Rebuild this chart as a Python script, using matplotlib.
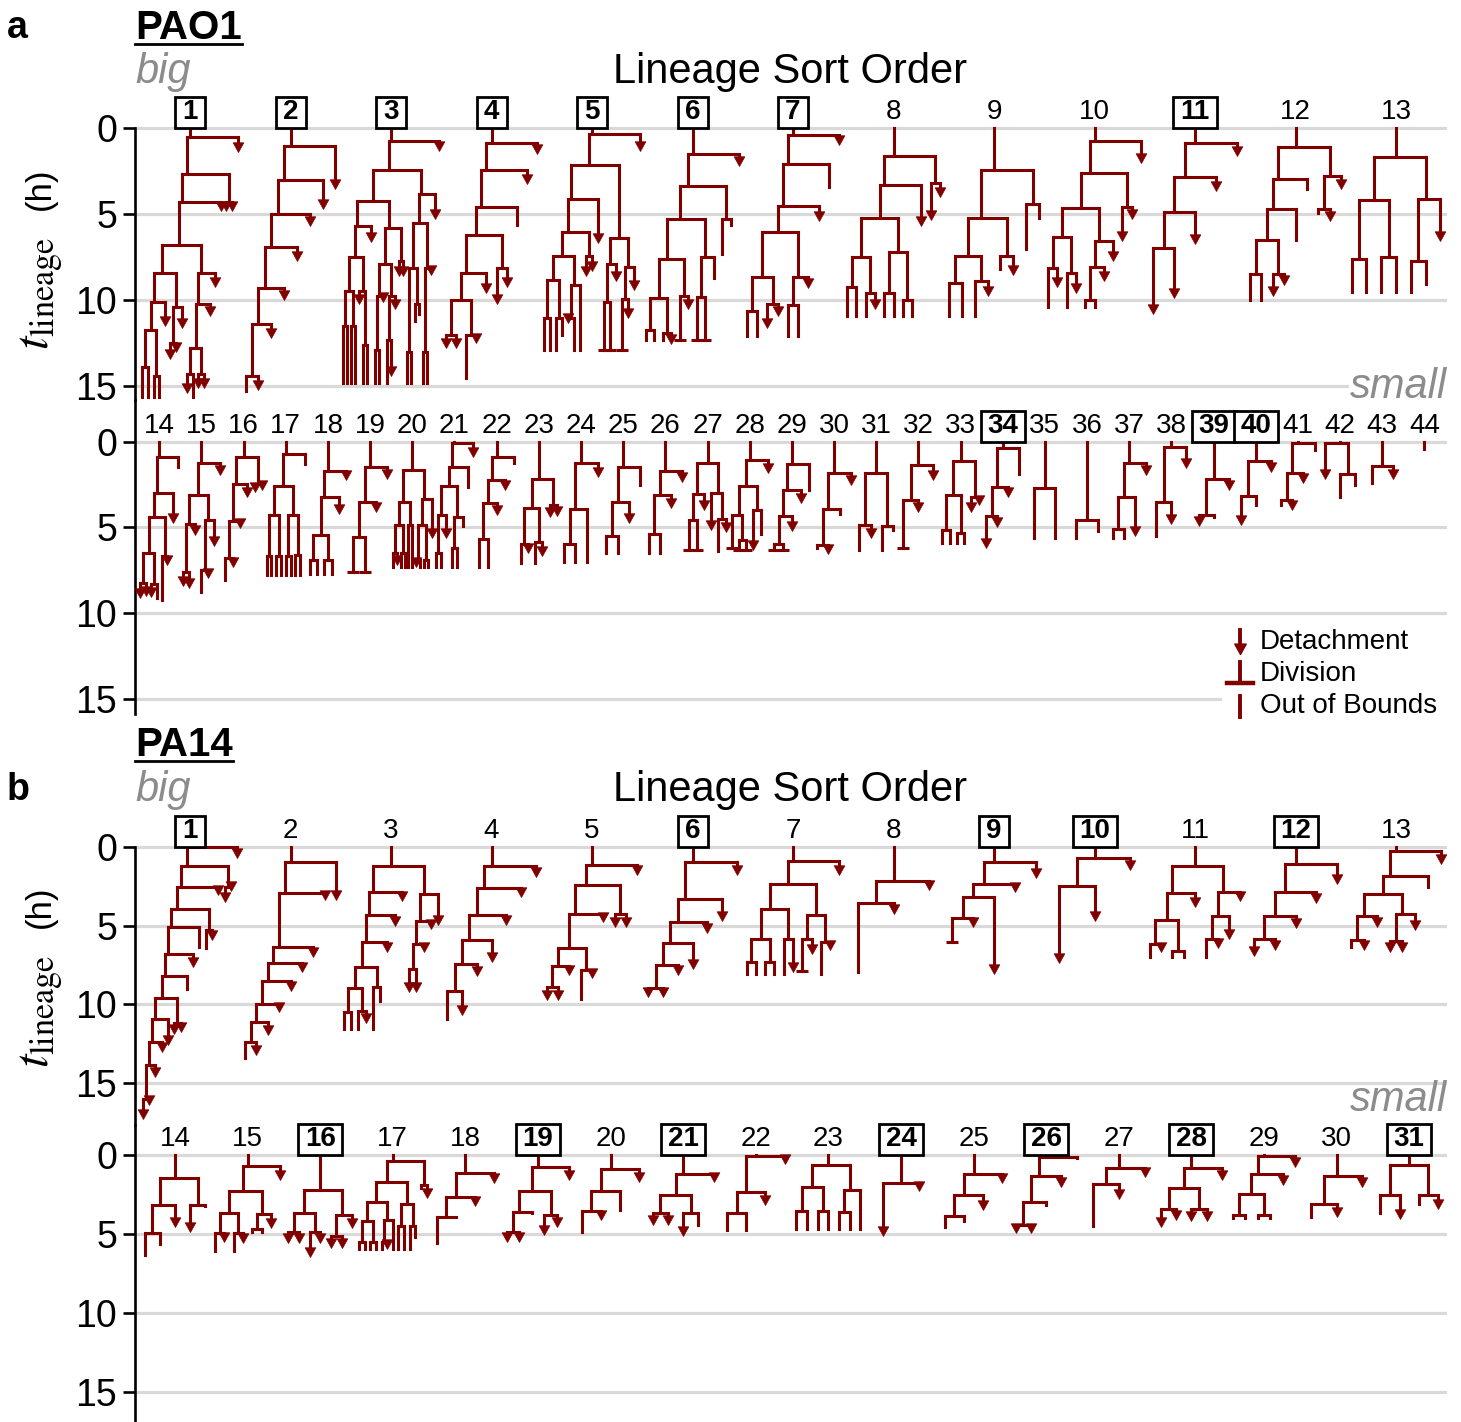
import matplotlib.pyplot as plt
from matplotlib.collections import LineCollection
from matplotlib.lines import Line2D
from matplotlib.patches import Rectangle
from matplotlib.path import Path

plt.rcParams['font.family'] = ['Liberation Sans', 'DejaVu Sans']
plt.rcParams['mathtext.fontset'] = 'stix'

W, H = 1461, 1422
RED = '#800000'
GRID = '#d9d9d9'
GRAY_TXT = '#8c8c8c'

# Lineage trees, times in hours.
# "t(left,right)" = division at t, leaf "t" + v (detached), o (out of bounds), d (division)
PAO1_TREES = [
    "0.5(2.65(4.3(6.8(8.4(10.1(11.7(13.9(15.6o,15.6o),14.4(15.6o,15.6o)),11.5v),10.4(12.5(13.4v,13.0v),11.6v)),8.4(10.2(12.75(14.3(15.4v,15.6o),14.3(15.1v,15.1v)),10.9v),9.2v)),4.8v),4.26(4.8v,4.8v)),1.35v)",
    "1.0(3.0(5.0(6.9(9.3(11.4(14.4(15.3o,15.2v),12.2v),10.0v),7.7v),5.7v),4.7v),3.55v)",
    "0.75(2.4(4.2(5.7(7.5(9.45(11.5(14.8o,14.8o),11.5(14.8o,14.8o)),9.45(10.2v,12.6(14.8o,14.8o))),6.6v),5.8(7.9(9.75(12.9(14.8o,14.8o),10.1v),9.75(12.3(14.8o,14.4v),10.5v)),7.7(8.6v,8.6v))),3.8(5.5(8.1(13.0(14.8o,14.8o),10.2(11.2o,10.8o)),8.1(13.0(14.8o,14.8o),8.5v)),5.3v)),1.3v)",
    "0.87(2.4(4.55(6.2(8.4(10.0(12.0(12.75v,12.75v),12.0(14.5o,12.5v)),9.6v),8.1(10.2v,9.2v)),5.6o),3.25v),1.5v)",
    "0.35(2.15(4.1(6.0(7.4(8.8(11.0(12.9o,12.9o),11.0(12.9o,12.0o)),9.1(11.0(11.3v,12.9o),12.9o)),7.4(8.6v,8.3v)),6.65v),6.35(7.9(10.1(12.9d,12.9d),8.9v),8.05(9.95(12.9d,11.0v),9.4v))),1.3v)",
    "1.5(3.35(5.3(7.6(9.85(11.7(12.3o,12.3o),11.9(12.3o,12.55v)),9.75(12.3d,10.5v)),7.5(9.8(12.3d,12.3d),8.7o)),5.3(7.3o,5.6o)),2.2v)",
    "0.4(2.1(4.5(6.0(8.65(10.6(12.1o,12.1o),10.2(11.6v,10.9v)),8.65(10.3(12.1o,12.1o),9.3v)),5.4v),3.4o),0.95v)",
    "1.6(3.3(5.2(7.5(9.2(10.9o,10.9o),9.6(10.9o,10.5v)),7.2(9.55(10.9o,10.9o),10.0(10.9o,10.9o))),5.7v),3.2(5.35v,4.0v))",
    "2.4(5.2(7.45(9.0(10.9o,10.9o),8.85(10.9o,9.75v)),7.45(8.2o,8.5v)),4.4(7.0o,5.2o))",
    "0.75(2.6(4.65(6.3(8.15(10.4o,9.25v),8.4(10.4o,9.6v)),6.55(8.05(10.0(10.4o,10.4o),8.9v),7.7v)),4.6(6.55v,5.3v)),2.0v)",
    "0.85(2.85(4.85(6.95(10.8v,9.85v),6.75v),3.65v),1.6v)",
    "1.1(2.95(4.7(6.5(8.45(10.0o,10.0o),8.45(9.75v,9.1v)),6.5o),3.5o),2.75(4.7(4.9o,5.4v),3.55v))",
    "1.65(4.15(7.6(9.5o,9.5o),7.5(9.5o,9.5o)),4.1(7.7(9.5o,9.05o),6.55v))",
    "0.9(3.0(4.4(6.5(8.25(9.15v,9.0v),8.3(9.05v,9.1o)),6.7(9.25o,7.2v)),4.75v),1.45o)",
    "1.25(3.1(4.8(7.6(8.45v,8.55v),5.45v),4.6(7.5(8.75o,7.95v),6.1v)),1.95v)",
    "0.9(2.45(4.65(6.8(8.1o,7.3v),5.05v),3.2v),2.45(2.95v,2.8v))",
    "0.7(2.6(4.3(6.7(7.8o,7.8o),6.7(7.8o,7.8o)),4.3(6.65(7.8o,7.8o),6.6(7.8o,7.8o))),1.3o)",
    "1.7(3.25(5.45(6.9(7.7o,7.7o),6.9(7.7o,7.7o)),4.2v),2.25v)",
    "1.5(3.5(5.55(7.6d,7.6d),4.1v),2.15v)",
    "1.65(3.5(4.85(6.5(7.3o,7.2v),6.5(7.3o,7.3o)),4.85(7.3o,7.3o)),3.35(4.85(6.9(7.3v,7.3o),6.9(7.3o,7.3o)),5.65v))",
    "0.05(1.5(2.6(4.3(6.5(7.3o,7.3o),5.65v),4.4(6.2(7.3o,7.3o),4.95o)),2.65o),0.9v)",
    "0.9(2.25(3.6(5.7(7.3o,7.3o),4.3v),2.8v),1.25o)",
    "2.2(3.85(6.0(7.1o,6.5v),5.85(7.1o,6.7v)),3.7(4.4v,4.35v))",
    "1.25(3.95(6.0(7.0o,7.0o),7.0o),2.05v)",
    "1.45(3.5(5.5(6.5o,6.5o),4.75v),2.55o)",
    "1.7(3.1(5.4(6.5o,6.5o),3.85v),2.35v)",
    "1.25(3.05(4.55(6.3d,6.3d),4.0v),3.0(5.15v,4.5(6.4o,5.25v)))",
    "1.05(2.6(4.3(6.2d,5.75(6.3d,6.3d)),4.0(6.3v,5.4o)),1.85v)",
    "1.3(2.8(4.35(5.95(6.3d,6.3d),5.2v),3.55v),2.8o)",
    "1.8(3.9(6.05(6.2o,6.55v),4.2o),2.55v)",
    "1.8(4.85(6.3o,5.65v),4.95(6.3o,5.15o))",
    "1.35(3.4(6.2d,4.1v),2.25v)",
    "1.15(3.1(5.15(5.9o,5.9o),5.35(5.9o,5.9o)),3.2(4.1v,3.7v))",
    "0.35(2.65(4.35(6.2v,5.0v),3.25v),1.9o)",
    "2.7(5.6o,5.6o)",
    "4.6(5.6o,5.2o)",
    "1.25(3.2(5.1(5.6o,5.6o),5.5v),1.95v)",
    "0.3(3.5(5.5o,4.8v),1.55v)",
    "2.2(4.3(4.9v,4.4o),2.8v)",
    "1.1(3.15(4.85v,3.7o),1.75v)",
    "0.05(1.8(3.4(3.7o,4.0v),2.4v),0.5o)",
    "0.05(2.2v,1.9(3.2o,2.5o))",
    "1.4(2.4o,2.2v)",
    "0.45o",
]
PAO1_BOXED = [1, 2, 3, 4, 5, 6, 7, 11, 34, 39, 40]

PA14_TREES = [
    "0.05(1.2(2.55(3.95(5.1(6.8(8.2(9.6(10.95(12.4(13.85(16.0(17.25v,16.4v),14.6v),13.0v),12.6v),11.2(11.9v,11.75v)),9.0o),7.6v),6.35o),5.3(6.4o,5.9v)),3.05v),2.55(3.5v,2.8v)),0.7v)",
    "0.95(2.95(6.35(7.35(8.5(9.95(11.1(12.4(13.4o,13.2v),11.95v),10.5v),9.15v),7.95v),7.0v),3.4v),3.4v)",
    "1.25(2.85(4.35(6.05(7.6(8.95(10.5(11.55o,11.55o),10.4(11.55o,11.2v)),8.9(11.55o,9.8o)),6.65v),5.0v),3.45v),3.0(4.7(6.2(7.75(9.2v,9.2v),6.65v),5.2v),4.95v))",
    "1.25(2.65(4.3(5.9(7.45(9.15(10.9o,10.7v),8.2v),7.3v),4.95v),3.2v),1.9v)",
    "1.15(2.45(4.25(6.45(7.55(8.9(9.75v,9.75v),8.15v),7.8(9.65o,8.35v)),4.75v),4.25(5.1v,5.1v)),1.8v)",
    "1.0(3.3(4.75(6.1(7.5(8.95(9.55v,9.55v),8.15v),7.75v),5.5v),4.7v),1.8v)",
    "0.9(2.35(3.95(5.85(7.3(8.05o,8.05o),7.3(8.05o,8.05o)),5.85(8.05o,7.95v)),4.35(5.85(7.9d,6.8v),6.05(8.05o,6.55v))),1.8v)",
    "2.2(3.6(7.95o,4.25v),2.75v)",
    "0.95(2.35(3.2(4.5(6.05d,5.1v),8.05v),2.85v),2.0v)",
    "0.7(2.5(7.4v,4.7v),1.5v)",
    "1.25(2.95(4.65(6.15(7.0o,6.65v),6.6(7.0o,7.0o)),3.8v),2.85(4.4(5.85(7.0o,6.45v),5.85v),3.45v))",
    "1.1(2.85(4.4(5.85(6.9v,6.55v),5.15v),3.6v),2.35v)",
    "0.3(1.85(3.0(4.4(5.9(6.35o,6.55v),5.1v),4.25(6.0(6.65v,6.65v),5.3v)),2.55o),1.1v)",
    "1.45(3.15(4.95(6.35o,5.65o),4.55v),3.15(4.9v,3.2o))",
    "0.7(2.3(3.65(4.95(6.1o,5.5v),4.95(6.1o,5.6v)),3.75(4.7(4.85o,4.85o),4.65v)),1.6v)",
    "2.2(3.65(4.9(5.6v,5.6v),4.9(6.45v,5.6v)),3.8(5.1(5.9v,5.9v),4.65v))",
    "0.4(1.7(2.95(4.2(5.5(5.95o,5.95o),5.5(5.95o,5.95o)),4.1(5.5(5.95o,5.95v),5.95o)),3.1(4.5(5.95o,5.95o),4.5(5.95o,5.2o))),1.9(2.1o,2.75v))",
    "1.15(2.65(3.9(5.6o,3.95o),3.25v),1.8v)",
    "0.75(2.3(3.6(4.85(5.5v,5.5v),3.65o),3.8(5.05v,4.55v)),1.6v)",
    "0.9(2.3(3.55(4.85o,4.1v),3.5o),1.7v)",
    "1.2(2.55(3.65(4.45v,4.45v),3.65(5.15v,4.4o)),1.7v)",
    "0.05(2.35(3.65(4.75o,4.75o),3.15v),0.55v)",
    "0.65(2.0(3.55(4.7o,4.7o),3.55(4.7o,4.7o)),2.2(3.6(4.7o,4.7o),4.7o))",
    "1.75(5.1v,2.3v)",
    "1.2(2.55(3.85(4.55o,4.2o),3.5v),1.8v)",
    "0.1(1.35(2.95(4.45(4.95v,4.95v),3.15o),2.0v),0.2o)",
    "0.8(1.85(4.5o,2.8v),1.4v)",
    "0.85(2.1(3.4(4.55v,4.1v),3.4(4.2v,4.2v)),1.6v)",
    "0.05(1.2(2.45(3.8(4.0o,4.0o),3.8(4.0o,4.0o)),1.9v),0.75v)",
    "1.35(3.1(3.95o,3.95v),2.0v)",
    "0.65(2.55(3.65o,4.05v),2.55(3.1o,3.4v))",
]
PA14_BOXED = [1, 6, 9, 10, 12, 16, 19, 21, 24, 26, 28, 31]

Y_TICKS = [0, 5, 10, 15]

# arrow head with its tip at the origin
ARROW = Path([(-0.55, 1.0), (0.55, 1.0), (0.0, 0.0), (-0.55, 1.0)],
             [Path.MOVETO, Path.LINETO, Path.LINETO, Path.CLOSEPOLY])
ARROW_MS = 14
ARROW_PX = 0.5 * ARROW_MS * 100 / 72


def parse_tree(text):
    s = text.replace(' ', '')
    pos = 0

    def node():
        nonlocal pos
        start = pos
        while s[pos] in '0123456789.':
            pos += 1
        t = float(s[start:pos])
        if s[pos] == '(':
            pos += 1
            left = node()
            pos += 1  # ','
            right = node()
            pos += 1  # ')'
            return {'t': t, 'kids': (left, right)}
        pos += 1
        return {'t': t, 'end': s[pos - 1]}

    return node()


def leaf_list(node):
    if 'kids' in node:
        return leaf_list(node['kids'][0]) + leaf_list(node['kids'][1])
    return [node]


def set_x(node):
    if 'kids' in node:
        xs = set_x(node['kids'][0]) + set_x(node['kids'][1])
        node['x'] = sum(xs) / len(xs)
        return xs
    return [node['x']]


def layout(tree, center):
    leaves = leaf_list(tree)
    n = len(leaves)
    if n == 1:
        leaves[0]['x'] = center
    else:
        span = 1 - 0.5 * (n - 1) ** -0.8
        for i, lf in enumerate(leaves):
            lf['x'] = center + (i / (n - 1) - 0.5) * span
    set_x(tree)


def collect(node, t0, tri, segs, arrows, divs):
    x = node['x']
    if 'kids' in node:
        td = node['t']
        left, right = node['kids']
        segs.append([(x, t0), (x, td)])
        segs.append([(left['x'], td), (right['x'], td)])
        collect(left, td, tri, segs, arrows, divs)
        collect(right, td, tri, segs, arrows, divs)
    else:
        te = node['t']
        if node['end'] == 'v':
            segs.append([(x, t0), (x, max(t0, te - tri / 2))])
            arrows.append((x, te))
        else:
            segs.append([(x, t0), (x, te)])
            if node['end'] == 'd':
                divs.append((x, te))


def fx(px):
    return px / W


def fy(py):
    return 1 - py / H


fig = plt.figure(figsize=(W / 100, H / 100), dpi=100)

ROWS = [
    # trees, first number, boxed, top px, bottom px, zero px, px per hour, first label px, step px, spine from 0
    (PAO1_TREES[:13], 1, PAO1_BOXED, 98, 400, 128.3, 17.2, 190, 100.5, True),
    (PAO1_TREES[13:], 14, PAO1_BOXED, 400, 714, 441.7, 17.13, 159.3, 42.17, False),
    (PA14_TREES[:13], 1, PA14_BOXED, 812, 1125, 846.7, 15.77, 190, 100.5, True),
    (PA14_TREES[13:], 14, PA14_BOXED, 1125, 1422, 1155, 15.8, 175, 72.6, False),
]

LEFT_PX, RIGHT_PX = 135, 1447

for trees, first, boxed, top, bottom, zero, pph, x0, dx, from_zero in ROWS:
    ax = fig.add_axes([fx(LEFT_PX), fy(bottom), (RIGHT_PX - LEFT_PX) / W, (bottom - top) / H])
    ax.patch.set_visible(False)
    ax.set_xlim((LEFT_PX - x0) / dx, (RIGHT_PX - x0) / dx)
    ax.set_ylim((bottom - zero) / pph, (top - zero) / pph)
    for side in ['top', 'right', 'bottom']:
        ax.spines[side].set_visible(False)
    ax.spines['left'].set_linewidth(1.9)
    if from_zero:
        ax.spines['left'].set_bounds(0, (bottom - zero) / pph)
    ax.set_xticks([])
    ax.set_yticks(Y_TICKS)
    ax.tick_params(axis='y', length=9, width=1.9, labelsize=27, pad=4)
    for t in Y_TICKS:
        ax.axhline(t, color=GRID, lw=2.3, zorder=0)

    tri = ARROW_PX / pph
    segs, arrows, divs = [], [], []
    for i, text in enumerate(trees):
        tree = parse_tree(text)
        layout(tree, i)
        collect(tree, 0.0, tri, segs, arrows, divs)
    ax.add_collection(LineCollection(segs, colors=RED, linewidths=2.2,
                                     capstyle='projecting', zorder=3, clip_on=False))
    if arrows:
        ax.plot([a[0] for a in arrows], [a[1] for a in arrows], ls='none', marker=ARROW,
                ms=ARROW_MS, color=RED, mec=RED, mew=0.5, zorder=4, clip_on=False)
    if divs:
        ax.plot([d[0] for d in divs], [d[1] for d in divs], ls='none', marker='_',
                ms=9, mew=2.2, color=RED, zorder=4, clip_on=False)

    # lineage numbers above each tree
    label_t = -16 / pph
    for i in range(len(trees)):
        num = first + i
        if num in boxed:
            bw = (16 + 14 * len(str(num))) / dx
            bh = 31 / pph
            ax.add_patch(Rectangle((i - bw / 2, -bh), bw, bh, fc='white', ec='black',
                                   lw=2.0, zorder=5, clip_on=False))
            ax.text(i, label_t, str(num), ha='center', va='center', fontsize=20,
                    weight='bold', zorder=6, clip_on=False)
        else:
            ax.text(i, label_t, str(num), ha='center', va='center', fontsize=20,
                    zorder=6, clip_on=False)

# panel headings
for letter, strain, y_strain, y_big, y_small, y_mid in [('a', 'PAO1', 28, 72, 387, 257),
                                                        ('b', 'PA14', 745, 790, 1100, 975)]:
    fig.text(fx(7), fy(y_strain if letter == 'a' else y_big), letter, fontsize=27,
             weight='bold', ha='left', va='center')
    head = fig.text(fx(LEFT_PX), fy(y_strain), strain, fontsize=29, weight='bold',
                    ha='left', va='center')
    fig.text(fx(LEFT_PX), fy(y_big), 'big', fontsize=30, style='italic', color=GRAY_TXT,
             ha='left', va='center')
    fig.text(fx(790), fy(y_big), 'Lineage Sort Order', fontsize=30, ha='center', va='center')
    small_kw = dict(fc='white', ec='none', pad=1) if letter == 'a' else None
    fig.text(fx(RIGHT_PX), fy(y_small), 'small', fontsize=30, style='italic', color=GRAY_TXT,
             ha='right', va='center', bbox=small_kw)
    fig.text(fx(40), fy(y_mid - 68), '(h)', fontsize=25, rotation=90, ha='center', va='center')
    fig.text(fx(42), fy(y_mid + 36), r'$t_{\mathrm{lineage}}$', fontsize=35, rotation=90,
             ha='center', va='center')
    fig.canvas.draw()
    bb = head.get_window_extent(fig.canvas.get_renderer())
    fig.add_artist(Line2D([bb.x0 / W, bb.x1 / W], [fy(y_strain + 16)] * 2,
                          transform=fig.transFigure, color='black', lw=2.0))

# legend for leaf ends
fig.add_artist(Rectangle((fx(1222), fy(722)), (1447 - 1222) / W, 100 / H,
                         transform=fig.transFigure, fc='white', ec='none', zorder=5))
lx = fx(1240)
fig.add_artist(Line2D([lx, lx], [fy(630), fy(646)], transform=fig.transFigure,
                      color=RED, lw=2.8, zorder=6))
fig.add_artist(Line2D([lx], [fy(654)], transform=fig.transFigure, ls='none', marker=ARROW,
                      ms=15, color=RED, mec=RED, zorder=6))
fig.add_artist(Line2D([lx, lx], [fy(662), fy(683)], transform=fig.transFigure,
                      color=RED, lw=2.8, zorder=6))
fig.add_artist(Line2D([fx(1227), fx(1253)], [fy(683), fy(683)], transform=fig.transFigure,
                      color=RED, lw=3.2, zorder=6))
fig.add_artist(Line2D([lx, lx], [fy(696), fy(717)], transform=fig.transFigure,
                      color=RED, lw=2.8, zorder=6))
for label, y in [('Detachment', 642), ('Division', 674), ('Out of Bounds', 706)]:
    fig.text(fx(1260), fy(y), label, fontsize=20, ha='left', va='center', zorder=7)

fig.savefig('out.png', dpi=100)
